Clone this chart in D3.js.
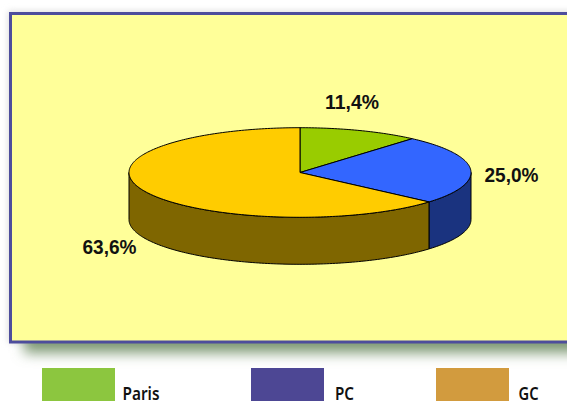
<!DOCTYPE html>
<html><head><meta charset="utf-8">
<script src="https://cdn.jsdelivr.net/npm/d3@7"></script>
<style>html,body{margin:0;padding:0;background:#fff;overflow:hidden}svg{display:block}</style>
</head><body><svg id="c" width="567" height="401"></svg>
<script>
const sliceValues = [11.4, 25.0, 63.6];
const sliceLabels = ["11,4%", "25,0%", "63,6%"];
const sliceColors = ["#99CC00", "#3366FF", "#FFCC00"];
const sideColors = ["#4D6600", "#1A337F", "#7F6600"];
const labelX = [352, 511.5, 109.5];
const labelY = [109, 181.5, 254];
const legendNames = ["Paris", "PC", "GC"];
const legendWidths = [37, 19, 20];
const legendColors = ["#8CC63F", "#4D4794", "#D29B3E"];
const legendX = [42, 251, 436];
const legendTextX = [122.5, 335, 518.5];

const svg = d3.select("#c");
const defs = svg.append("defs");
const f = defs.append("filter").attr("id","sh").attr("x","-10%").attr("y","-10%").attr("width","120%").attr("height","125%");
f.append("feGaussianBlur").attr("stdDeviation",6.5);
const h = defs.append("filter").attr("id","ha").attr("x","-10%").attr("y","-10%").attr("width","120%").attr("height","120%");
h.append("feGaussianBlur").attr("stdDeviation",3);

// Halo and drop shadow
svg.append("rect").attr("x",8).attr("y",11).attr("width",580).attr("height",332).attr("fill","#dddddd").attr("filter","url(#ha)");
svg.append("rect").attr("x",24).attr("y",30).attr("width",580).attr("height",323).attr("fill","#7f9a75").attr("filter","url(#sh)");
// Panel
svg.append("rect").attr("x",10.5).attr("y",13.5).attr("width",570).attr("height",328.5)
  .attr("fill","#FFFF99").attr("stroke","#4D4D9C").attr("stroke-width",3);

// Pie
const cx=300, cy=172.5, rx=171, ry=44.8, depth=47;
const X=d3.scaleLinear().domain([-1,1]).range([cx-rx,cx+rx]);
const Y=d3.scaleLinear().domain([-1,1]).range([cy-ry,cy+ry]);
const arcs=d3.pie().sort(null).value(d=>d)(sliceValues);
const step=Math.PI/180;
const samples=(a,b)=>{const n=Math.max(2,Math.ceil((b-a)/step));return d3.range(n+1).map(i=>a+(b-a)*i/n);};
const px=a=>X(Math.sin(a)), py=a=>Y(-Math.cos(a));
const line=d3.line().x(d=>d[0]).y(d=>d[1]);
const g=svg.append("g").attr("stroke","#000").attr("stroke-width",1).attr("stroke-linejoin","round");

// Visible side walls
arcs.forEach((d,i)=>{
  const a=Math.max(d.startAngle,Math.PI/2), b=Math.min(d.endAngle,3*Math.PI/2);
  if(b<=a) return;
  const s=samples(a,b);
  const top=s.map(t=>[px(t),py(t)]);
  const bot=s.slice().reverse().map(t=>[px(t),py(t)+depth]);
  g.append("path").attr("d",line(top.concat(bot))+"Z").attr("fill",sideColors[i]);
});
// Top faces
arcs.forEach((d,i)=>{
  const pts=[[cx,cy]].concat(samples(d.startAngle,d.endAngle).map(t=>[px(t),py(t)]));
  g.append("path").attr("d",line(pts)+"Z").attr("fill",sliceColors[i]);
});

// Value labels
svg.append("g").selectAll("text").data(sliceLabels).join("text")
  .attr("x",(d,i)=>labelX[i]).attr("y",(d,i)=>labelY[i]).attr("text-anchor","middle")
  .attr("font-family","'Liberation Sans',Arial,sans-serif").attr("font-weight","bold").attr("font-size",20)
  .attr("textLength",54).attr("lengthAdjust","spacingAndGlyphs")
  .attr("fill","#111").text(d=>d);

// Legend
const lg=svg.append("g");
lg.selectAll("rect").data(legendNames).join("rect")
  .attr("x",(d,i)=>legendX[i]).attr("y",368).attr("width",73).attr("height",33)
  .attr("fill",(d,i)=>legendColors[i]);
lg.selectAll("text").data(legendNames).join("text")
  .attr("x",(d,i)=>legendTextX[i]).attr("y",399.5).attr("font-family","'Noto Sans',sans-serif")
  .attr("font-weight",600).attr("font-size",17).attr("fill","#111")
  .attr("textLength",(d,i)=>legendWidths[i]).attr("lengthAdjust","spacingAndGlyphs").text(d=>d);
</script></body></html>
